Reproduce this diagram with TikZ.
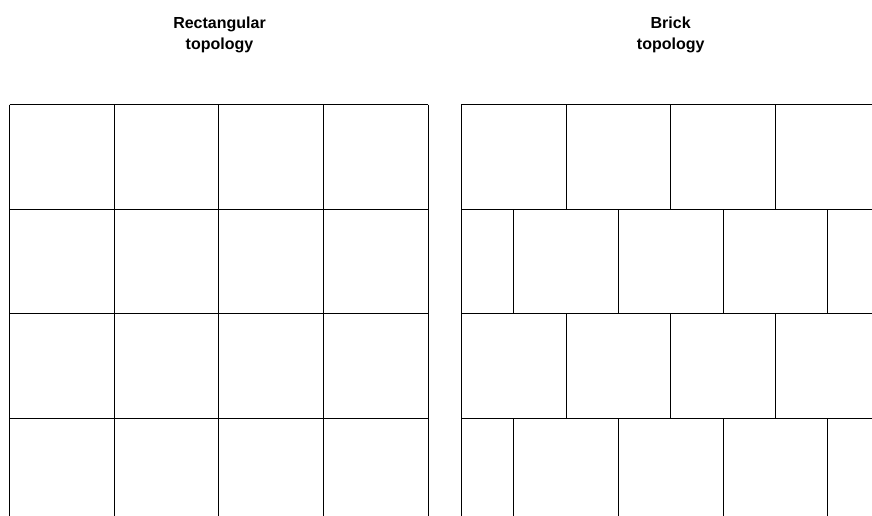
\documentclass[tikz,border=0pt]{standalone}
\usepackage{fontspec}
\setmainfont{Liberation Sans}
\begin{document}
\begin{tikzpicture}[x=1pt,y=-1pt,
  gridline/.style={line width=1pt, draw=black},
  titletext/.style={font=\bfseries\fontsize{16}{21}\selectfont, align=center, inner sep=0pt}]
\useasboundingbox (0,0) rectangle (872,515);
\clip (0,0) rectangle (872,515);
\def\s{104.7}
\def\yo{104.5}
\def\xl{9.5}
\def\xr{461.3}
% titles
\node[titletext] (titleL) at (219.5,34.4) {Rectangular\\topology};
\node[titletext] (titleR) at (670.7,34.4) {Brick\\topology};
% rectangular grid
\foreach \i in {0,...,4}{
  \draw[gridline] ({\xl+\i*\s},\yo) -- ({\xl+\i*\s},520);
}
\foreach \j in {0,...,3}{
  \draw[gridline] (\xl,{\yo+\j*\s}) -- ({\xl+4*\s},{\yo+\j*\s});
}
% brick grid
\draw[gridline] (\xr,\yo) -- (\xr,520);
\foreach \j in {0,...,3}{
  \draw[gridline] (\xr,{\yo+\j*\s}) -- (880,{\yo+\j*\s});
}
\foreach \j in {0,2}{
  \foreach \k in {1,2,3}{
    \draw[gridline] ({\xr+\k*\s},{\yo+\j*\s}) -- ({\xr+\k*\s},{\yo+(\j+1)*\s});
  }
}
\foreach \j in {1,3}{
  \foreach \k in {0,1,2,3}{
    \draw[gridline] ({\xr+(\k+0.5)*\s},{\yo+\j*\s}) -- ({\xr+(\k+0.5)*\s},{\yo+(\j+1)*\s});
  }
}
\end{tikzpicture}
\end{document}
